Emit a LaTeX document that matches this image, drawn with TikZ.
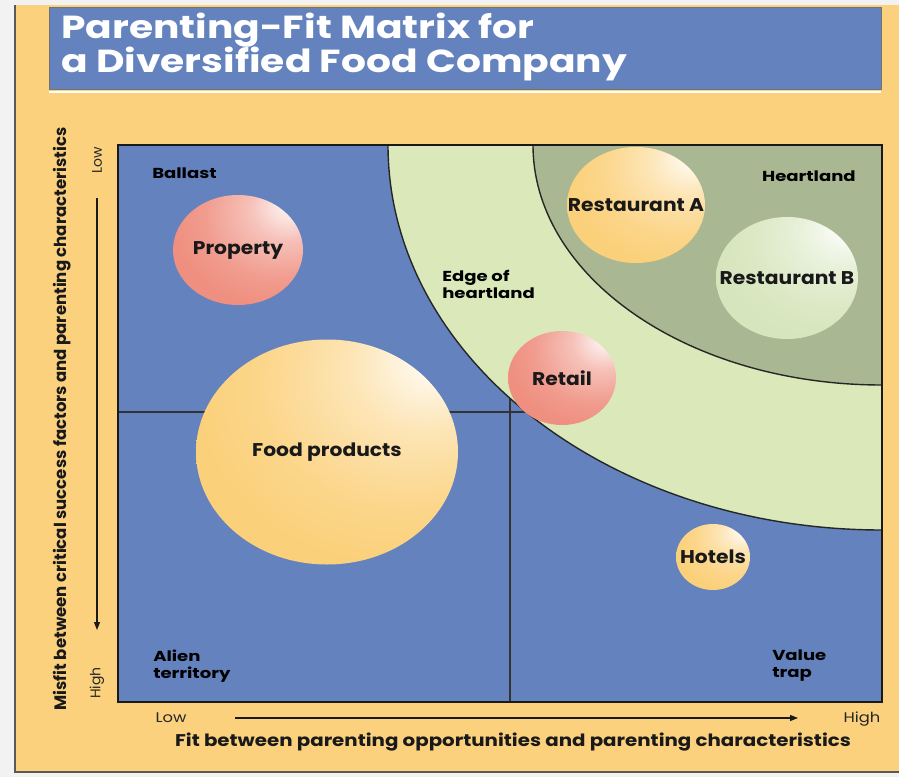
\documentclass[tikz,border=0pt]{standalone}
\usepackage{fontspec}
\setmainfont{Poppins}
\usetikzlibrary{shapes.geometric,arrows.meta}

\definecolor{bgorange}{HTML}{FBD17E}
\definecolor{tblue}{HTML}{6482BE}
\definecolor{mblue}{HTML}{6482BE}
\definecolor{lgreen}{HTML}{DAE8BA}
\definecolor{dgreen}{HTML}{A9B792}
\definecolor{oBase}{HTML}{FBD07A}
\definecolor{sBase}{HTML}{EF8F80}
\definecolor{gBase}{HTML}{D6E5BC}

\pgfdeclareradialshading{sphOrange}{\pgfpoint{22bp}{22bp}}{color(0bp)=(white); color(4bp)=(white!85!oBase); color(14bp)=(white!45!oBase); color(28bp)=(white!12!oBase); color(38bp)=(oBase); color(90bp)=(oBase)}
\pgfdeclareradialshading{sphSalmon}{\pgfpoint{22bp}{22bp}}{color(0bp)=(white); color(4bp)=(white!85!sBase); color(14bp)=(white!45!sBase); color(28bp)=(white!12!sBase); color(38bp)=(sBase); color(90bp)=(sBase)}
\pgfdeclareradialshading{sphGreen}{\pgfpoint{22bp}{22bp}}{color(0bp)=(white); color(4bp)=(white!85!gBase); color(14bp)=(white!45!gBase); color(28bp)=(white!12!gBase); color(38bp)=(gBase); color(90bp)=(gBase)}

\newcommand{\widetxt}[1]{\makebox[0pt]{\scalebox{1.1}[1]{#1}}}

\tikzset{
  bubble/.style={ellipse, inner sep=0pt, text=black!90, font=\bfseries\fontsize{18.5}{20}\selectfont},
  zonelabel/.style={text=black, font=\bfseries\fontsize{14.5}{17}\selectfont, align=left, inner sep=0pt, xscale=1.25, transform shape},
  titletext/.style={text=white, font=\bfseries\fontsize{32}{34}\selectfont, inner sep=0pt, xscale=1.23, transform shape},
  gridline/.style={draw=black!80, line width=1.2bp},
  ringline/.style={draw=black!85, line width=1.4bp},
  axislabel/.style={text=black!85, font=\fontsize{14}{16}\selectfont, inner sep=0pt, xscale=1.17, transform shape},
  axistitle/.style={text=black!90, font=\bfseries\fontsize{17}{19}\selectfont, inner sep=0pt, xscale=1.17, transform shape},
  axisarrow/.style={draw=black!90, line width=1.3bp, -{Triangle[length=8bp,width=6bp]}}
}

\begin{document}
\begin{tikzpicture}[x=1bp,y=-1bp]
\useasboundingbox (0,0) rectangle (899,777);
% page and frame
\fill[black!5] (0,0) rectangle (899,777);
\fill[bgorange] (15,5) rectangle (899,772);
\draw[black!65, line width=1.5bp] (15,5) -- (15,772) -- (899,772);

% title bar
\filldraw[fill=tblue, draw=black!55, line width=0.8bp] (49,7) rectangle (881,89);
\draw[white, line width=2.5bp] (49,92) -- (881,92);
\node[titletext, anchor=base west] (title1) at (61,39) {Parenting-Fit Matrix for};
\node[titletext, anchor=base west] (title2) at (61,73) {a Diversified Food Company};

% matrix background
\fill[mblue] (118,145) rectangle (882,702);
\coordinate (hl) at (118,412);
\coordinate (hr) at (882,412);
\coordinate (vt) at (510,145);
\coordinate (vb) at (510,702);
\draw[gridline] (hl) -- (hr);
\draw[gridline] (vt) -- (vb);

% heartland rings
\begin{scope}
  \clip (118,145) rectangle (882,702);
  \filldraw[fill=lgreen, ringline] (882,145) ellipse [x radius=494, y radius=385];
  \filldraw[fill=dgreen, ringline] (882,145) ellipse [x radius=349, y radius=240];
\end{scope}
\draw[black!90, line width=1.5bp] (118,145) rectangle (882,702);

% zone labels
\node[zonelabel, anchor=west] (ballast) at (152,173) {Ballast};
\node[zonelabel, anchor=east] (heart) at (856,176) {Heartland};
\node[zonelabel, anchor=west] (edge) at (442,284) {Edge of\\heartland};
\node[zonelabel, anchor=west] (alien) at (153,666) {Alien\\territory};
\node[zonelabel, anchor=west] (value) at (772,666) {Value\\trap};

% businesses
\node[bubble, shading=sphSalmon, minimum width=130bp, minimum height=110bp] (property) at (238,250) {\widetxt{Property}};
\node[bubble, shading=sphOrange, minimum width=262bp, minimum height=225bp] (food) at (327,452) {\widetxt{Food products}};
\node[bubble, shading=sphOrange, minimum width=138bp, minimum height=116bp] (restA) at (636,205) {\widetxt{Restaurant A}};
\node[bubble, shading=sphGreen, minimum width=142bp, minimum height=122bp] (restB) at (787,278) {\widetxt{Restaurant B}};
\node[bubble, shading=sphSalmon, minimum width=108bp, minimum height=94bp] (retail) at (562,378) {\widetxt{Retail}};
\node[bubble, shading=sphOrange, minimum width=74bp, minimum height=66bp] (hotels) at (713,557) {\widetxt{Hotels}};

% x axis
\node[axislabel] (xlow) at (171,718) {Low};
\node[axislabel] (xhigh) at (862,719) {High};
\coordinate (xa) at (235,718);
\coordinate (xb) at (798,718);
\draw[axisarrow] (xa) -- (xb);
\node[axistitle] (xtitle) at (513,742) {Fit between parenting opportunities and parenting characteristics};

% y axis
\node[text=black!85, font=\fontsize{14}{16}\selectfont, inner sep=0pt, rotate=90] (ylow) at (97,160) {Low};
\node[text=black!85, font=\fontsize{14}{16}\selectfont, inner sep=0pt, rotate=90] (yhigh) at (97,683) {High};
\coordinate (ya) at (97,198);
\coordinate (yb) at (97,630);
\draw[axisarrow] (ya) -- (yb);
\node[text=black!90, inner sep=0pt, rotate=90, font=\bfseries\fontsize{16.6}{18}\selectfont] (ytitle) at (62,419) {Misfit between critical success factors and parenting characteristics};
\end{tikzpicture}
\end{document}
